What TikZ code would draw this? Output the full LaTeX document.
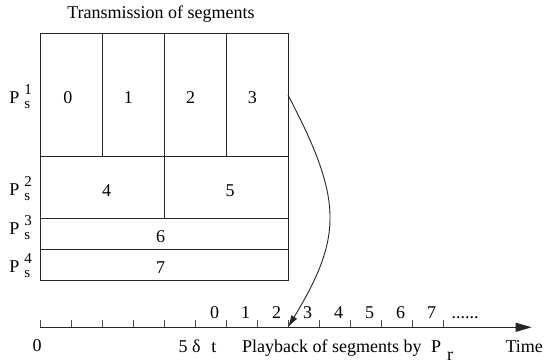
\documentclass[tikz,border=0pt]{standalone}
\usepackage{fontspec}
\setmainfont{Liberation Serif}
\usetikzlibrary{arrows.meta}
\newcommand\plab[1]{P\hspace{5pt}\rlap{\raisebox{9pt}{\fontsize{15}{15}\selectfont #1}}\raisebox{-5pt}{\fontsize{15}{15}\selectfont s}}
\begin{document}
\begin{tikzpicture}[x=1pt,y=-1pt,
  font=\fontsize{18}{20}\selectfont,
  every node/.style={inner sep=0pt, outer sep=0pt},
  lbl/.style={anchor=base},
  lblw/.style={anchor=base west},
  ln/.style={line width=0.9pt, black!85},
  tick/.style={line width=0.9pt, black!70}]
\useasboundingbox (0,0) rectangle (544,364);

% title
\node[lbl] (title) at (161,18.3) {Transmission of segments};

% box and partitions
\coordinate (bTL) at (40,33);
\coordinate (bBR) at (288,280);
\draw[ln] (bTL) rectangle (bBR);
\draw[ln] (40,156) -- (288,156);
\draw[ln] (40,218) -- (288,218);
\draw[ln] (40,249) -- (288,249);
\draw[ln] (102,33) -- (102,156);
\draw[ln] (164,33) -- (164,218);
\draw[ln] (226,33) -- (226,156);

% row labels
\node[lblw] (p1) at (9.3,103.3) {\plab{1}};
\node[lblw] (p2) at (9.3,195) {\plab{2}};
\node[lblw] (p3) at (9.3,234) {\plab{3}};
\node[lblw] (p4) at (9.3,272) {\plab{4}};

% segment numbers
\node[lbl] (s0) at (67.8,103.3) {0};
\node[lbl] (s1) at (128.3,103.3) {1};
\node[lbl] (s2) at (190.7,103.3) {2};
\node[lbl] (s3) at (252.3,103.3) {3};
\node[lbl] (s4) at (106.7,196) {4};
\node[lbl] (s5) at (230,196) {5};
\node[lbl] (s6) at (160.7,242.7) {6};
\node[lbl] (s7) at (160.7,273) {7};

% time axis
\coordinate (axL) at (40,327.3);
\coordinate (axR) at (531.7,327.3);
\draw[ln, -{Triangle[length=16pt,width=9pt]}] (axL) -- (axR);
\foreach \k in {0,...,13}
  \draw[tick] (40+31*\k,327.3) -- ++(0,-7);

% playback numbers
\foreach \n in {0,...,7}
  \node[lbl] (q\n) at (214.5+31*\n,318) {\n};
\node[lblw] (dots) at (451.5,318) {......};

% axis labels
\node[lbl] (zero) at (37,351.7) {0};
\node[lblw] (fdt) at (178.5,352) {5 δ\hspace{0.6em}t};
\node[lblw] (play) at (242.2,352.5) {Playback of segments by\hspace{9.5pt}P\hspace{6pt}\raisebox{-7.5pt}{r}};
\node[lblw] (time) at (505.5,352.5) {Time};

% curved arrow
\coordinate (cs) at (288,95);
\coordinate (tip) at (288,327.3);
\draw[ln, -{Latex[length=12pt,width=7pt]}] (cs) .. controls (343,200) and (343,236) .. (tip);
\end{tikzpicture}
\end{document}
